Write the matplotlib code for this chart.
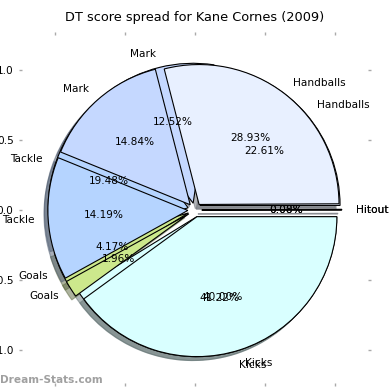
import matplotlib
matplotlib.use("Agg")
import matplotlib.pyplot as plt

# DT score breakdown, two series drawn on top of each other
categories = ["Hitout", "Handballs", "Mark", "Tackle", "Goals", "Kicks"]
series_a = [0.08, 28.93, 14.84, 14.19, 1.96, 40.00]
series_b = [0.00, 22.61, 12.52, 19.48, 4.17, 41.22]
explode = [0.05] * len(categories)
colors = ["#e8f0ff", "#e8f0ff", "#c5d8ff", "#b5d4ff", "#cce88c", "#d9ffff"]

yticks = [-1.0, -0.5, 0.0, 0.5, 1.0]
ytick_labels = ["-1.0", "-0.5", "0.0", "0.5", "1.0"]

fig = plt.figure(figsize=(3.9, 3.9), dpi=100)
ax = fig.add_axes([0.056, 0.018, 0.887, 0.892])

wedge_kw = dict(edgecolor="black", linewidth=0.8)
for values in (series_b, series_a):
    ax.pie(values, labels=categories, colors=colors, explode=explode,
           autopct="%.2f%%", shadow=dict(shade=0.55), startangle=0,
           wedgeprops=wedge_kw, frame=True,
           textprops=dict(fontsize=7.6))

ax.set_aspect("auto")
ax.set_xlim(-1.236, 1.236)
ax.set_ylim(-1.236, 1.25)
for s in ax.spines.values():
    s.set_visible(False)
ax.set_xticks(yticks)
ax.set_yticks(yticks)
ax.set_yticklabels(ytick_labels)
ax.tick_params(axis="both", which="both", color="#aaaaaa", length=2.5,
               width=1, direction="out", top=True, right=True,
               labelbottom=False, labelsize=7.6, pad=3.5)

ax.set_title("DT score spread for Kane Cornes (2009)", fontsize=9.3, pad=10)
fig.text(0.0, 0.025, "Dream-Stats.com", fontsize=7.6, fontweight="bold",
         color="#a0a0a0", ha="left", va="center")

plt.savefig("out.png", dpi=100)
plt.close()
